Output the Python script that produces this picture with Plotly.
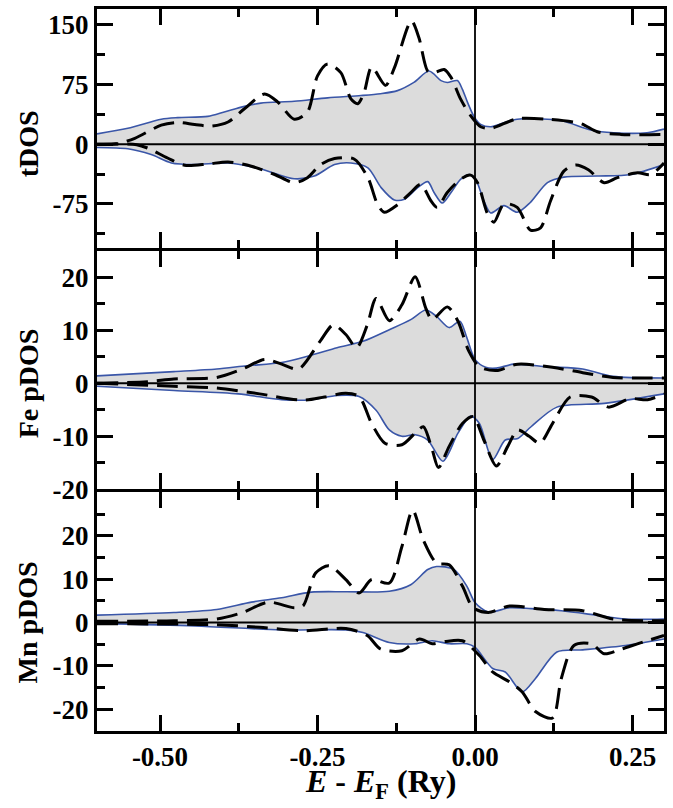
import plotly.graph_objects as go
from plotly.subplots import make_subplots

# ---------------- data ----------------
# Panel 1: tDOS
tdos_up_solid_x = [-0.6, -0.551, -0.498, -0.472, -0.424, -0.398, -0.366, -0.340, -0.287, -0.234, -0.181, -0.150, -0.123, -0.097, -0.073, -0.054, -0.044, -0.028, -0.020, -0.012, -0.001, 0.009, 0.025, 0.046, 0.067, 0.115, 0.141, 0.184, 0.220, 0.273, 0.3]
tdos_up_solid_y = [13, 20, 31.5, 33.5, 35, 40.5, 47.6, 51.7, 54, 58.3, 61.2, 63.5, 67.4, 77.7, 92, 80, 77.7, 80, 69, 53, 34, 25, 22, 27, 31.5, 31.5, 29, 18, 14.5, 14.5, 19]
tdos_dn_solid_x = [-0.6, -0.551, -0.514, -0.482, -0.445, -0.392, -0.340, -0.287, -0.255, -0.223, -0.197, -0.170, -0.149, -0.128, -0.112, -0.091, -0.075, -0.065, -0.052, -0.038, -0.023, -0.009, 0.001, 0.014, 0.025, 0.046, 0.067, 0.088, 0.115, 0.141, 0.194, 0.247, 0.3]
tdos_dn_solid_y = [-4, -5.7, -13, -23.5, -25.5, -23.5, -31, -43.4, -40, -25.5, -23.5, -29.7, -54.5, -70, -69, -54.5, -47, -60.7, -73.9, -60.7, -44.2, -38, -44, -71, -86.3, -77.2, -85.5, -73, -48.3, -41.3, -40, -38, -25.5]
tdos_up_dash_x = [-0.6, -0.57, -0.540, -0.498, -0.472, -0.445, -0.419, -0.392, -0.366, -0.334, -0.313, -0.287, -0.266, -0.250, -0.234, -0.213, -0.197, -0.186, -0.176, -0.164, -0.142, -0.128, -0.101, -0.089, -0.075, -0.065, -0.049, -0.038, -0.023, -0.007, 0.009, 0.025, 0.067, 0.115, 0.168, 0.194, 0.231, 0.3]
tdos_up_dash_y = [0, 0.5, 7.5, 24, 27.3, 24.8, 22.8, 28, 44.6, 63.2, 53, 31.5, 40.5, 86, 101, 90, 57, 51, 65, 97, 74, 96, 155, 134, 92, 90, 94, 84, 57, 36, 22, 20, 32, 31.5, 26, 15.7, 12.4, 12.4]
tdos_dn_dash_x = [-0.6, -0.537, -0.519, -0.488, -0.461, -0.424, -0.392, -0.355, -0.318, -0.287, -0.266, -0.245, -0.223, -0.192, -0.170, -0.155, -0.144, -0.123, -0.102, -0.086, -0.070, -0.060, -0.044, -0.023, -0.007, 0.004, 0.020, 0.030, 0.046, 0.067, 0.088, 0.104, 0.120, 0.141, 0.160, 0.180, 0.205, 0.226, 0.258, 0.279, 0.3]
tdos_dn_dash_y = [0, -0.5, -5, -17.3, -26.4, -24.8, -22.3, -27.6, -38, -48.3, -42, -25.5, -18, -18.5, -42, -75, -85.5, -76, -60.7, -50.3, -71, -79.3, -60.7, -44, -38.8, -48.3, -87.5, -97.9, -75, -79.3, -108, -105, -71, -33.8, -26, -32, -48.3, -42, -35.9, -38, -23.5]

# Panel 2: Fe pDOS
fe_up_solid_x = [-0.6, -0.478, -0.41, -0.362, -0.307, -0.26, -0.219, -0.178, -0.136, -0.102, -0.078, -0.061, -0.041, -0.024, -0.013, 0, 0.017, 0.034, 0.062, 0.116, 0.171, 0.219, 0.3]
fe_up_solid_y = [1.4, 2.2, 2.7, 3.3, 3.9, 5.3, 6.7, 7.9, 10.1, 12, 13.8, 12.6, 10.5, 11.7, 8.6, 4.5, 3, 2.85, 3.6, 3.1, 2.7, 1.3, 1.0]
fe_dn_solid_x = [-0.6, -0.478, -0.376, -0.307, -0.26, -0.219, -0.184, -0.157, -0.136, -0.116, -0.095, -0.075, -0.051, -0.027, -0.007, 0.007, 0.028, 0.048, 0.068, 0.089, 0.13, 0.205, 0.3]
fe_dn_solid_y = [-0.56, -1.36, -2, -3.1, -3.1, -2.3, -2.5, -5.1, -8.8, -10, -9.7, -10.7, -14.7, -9.4, -6.2, -7.6, -14.4, -10.7, -10.4, -8.2, -4.5, -3.8, -2]
fe_up_dash_x = [-0.6, -0.52, -0.478, -0.41, -0.369, -0.334, -0.307, -0.28, -0.246, -0.225, -0.205, -0.188, -0.171, -0.157, -0.136, -0.116, -0.095, -0.078, -0.068, -0.044, -0.027, -0.01, 0.007, 0.034, 0.068, 0.123, 0.171, 0.219, 0.3]
fe_up_dash_y = [0, 0.3, 0.8, 1.1, 2.7, 4.5, 3.6, 2.7, 7.9, 11, 9.2, 6.7, 11, 16, 11.8, 14.8, 20.1, 14.1, 12, 14.4, 11.7, 6.1, 3.1, 2.4, 3.6, 3, 2, 1.1, 1]
fe_dn_dash_x = [-0.6, -0.478, -0.41, -0.342, -0.273, -0.239, -0.205, -0.184, -0.164, -0.143, -0.116, -0.095, -0.082, -0.068, -0.058, -0.041, -0.02, -0.003, 0.014, 0.034, 0.052, 0.068, 0.086, 0.103, 0.123, 0.151, 0.185, 0.212, 0.246, 0.274, 0.3]
fe_dn_dash_y = [0, -0.56, -0.9, -2, -3.2, -2.6, -1.9, -2.5, -7.6, -11.3, -11.6, -9.4, -8.2, -12.5, -15.9, -11.9, -7.6, -6.3, -10.7, -15.6, -11.9, -8.8, -10, -11.3, -7.6, -2.6, -2.6, -4.5, -2.9, -3.1, -2]

# Panel 3: Mn pDOS
mn_up_solid_x = [-0.6, -0.478, -0.41, -0.355, -0.307, -0.26, -0.205, -0.136, -0.102, -0.075, -0.061, -0.034, -0.013, 0, 0.021, 0.055, 0.089, 0.137, 0.192, 0.239, 0.3]
mn_up_solid_y = [1.7, 2.3, 3, 4.7, 5.7, 7, 7.1, 7.2, 8.7, 12.2, 12.9, 12.3, 8.4, 4.6, 2.4, 3.4, 3.2, 2.7, 1.7, 0.8, 0.8]
mn_dn_solid_x = [-0.6, -0.444, -0.307, -0.205, -0.178, -0.136, -0.095, -0.068, -0.041, -0.013, 0, 0.028, 0.048, 0.075, 0.096, 0.13, 0.171, 0.239, 0.3]
mn_dn_solid_y = [-0.2, -0.8, -1.7, -1.7, -2.3, -4.6, -4.9, -4.2, -4.9, -4.9, -5.7, -10.6, -11.4, -16, -12.9, -6.8, -6.3, -5.3, -3.8]
mn_up_dash_x = [-0.6, -0.478, -0.41, -0.369, -0.328, -0.287, -0.273, -0.253, -0.232, -0.205, -0.184, -0.164, -0.136, -0.116, -0.099, -0.082, -0.061, -0.041, -0.02, -0.003, 0.021, 0.055, 0.11, 0.171, 0.219, 0.3]
mn_up_dash_y = [0.3, 0.4, 0.8, 2.3, 4.7, 3.4, 3.8, 11.4, 13.1, 9.9, 6.8, 9.9, 9.1, 17.5, 25.9, 19, 13.7, 13.3, 8.4, 3.4, 2.3, 3.8, 3, 2.7, 0.8, 0.4]
mn_dn_dash_x = [-0.6, -0.41, -0.342, -0.273, -0.205, -0.171, -0.15, -0.116, -0.088, -0.068, -0.048, -0.02, 0.007, 0.028, 0.055, 0.075, 0.096, 0.123, 0.137, 0.157, 0.185, 0.205, 0.233, 0.26, 0.3]
mn_dn_dash_y = [-0.3, -0.5, -1.1, -1.9, -1.4, -3, -6.1, -6.5, -3.8, -4.9, -4.4, -4.2, -7.6, -11.4, -13.7, -16, -20.5, -22, -12.9, -5.3, -4.9, -7.2, -6.1, -4.8, -3]

panel_titles = ["tDOS", "Fe pDOS", "Mn pDOS"]
y_ranges = [[-130, 170], [-20, 25], [-25, 30]]
y_tickvals = [[-75, 0, 75, 150], [-20, -10, 0, 10, 20], [-20, -10, 0, 10, 20]]
y_ticktext = [["-75", "0", "75", "150"], ["-20", "-10", "0", "10", "20"], ["-20", "-10", "0", "10", "20"]]
y_minor = [37.5, 5, 5]
x_tickvals = [-0.5, -0.25, 0.0, 0.25]
x_ticktext = ["-0.50", "-0.25", "0.00", "0.25"]

# ---------------- figure ----------------
BLUE = "#3a56a8"
FILL = "#dcdcdc"
FONT = "Liberation Serif, Times New Roman, serif"
LW = 3

W, H = 673, 808
ML, MR, MT, MB = 97, 9, 6, 77
plot_w = W - ML - MR
plot_h = H - MT - MB

fig = make_subplots(rows=3, cols=1, shared_xaxes=True, vertical_spacing=LW / plot_h)

panels = [
    (tdos_up_solid_x, tdos_up_solid_y, tdos_dn_solid_x, tdos_dn_solid_y,
     tdos_up_dash_x, tdos_up_dash_y, tdos_dn_dash_x, tdos_dn_dash_y),
    (fe_up_solid_x, fe_up_solid_y, fe_dn_solid_x, fe_dn_solid_y,
     fe_up_dash_x, fe_up_dash_y, fe_dn_dash_x, fe_dn_dash_y),
    (mn_up_solid_x, mn_up_solid_y, mn_dn_solid_x, mn_dn_solid_y,
     mn_up_dash_x, mn_up_dash_y, mn_dn_dash_x, mn_dn_dash_y),
]

for i, p in enumerate(panels):
    row = i + 1
    usx, usy, dsx, dsy, udx, udy, ddx, ddy = p
    for xs, ys in [(usx, usy), (dsx, dsy)]:
        fig.add_trace(go.Scatter(x=xs, y=ys, mode="lines", fill="tozeroy",
                                 fillcolor=FILL,
                                 line=dict(color=BLUE, width=1.6, shape="spline", smoothing=0.8),
                                 showlegend=False, hoverinfo="skip"), row=row, col=1)
    for xs, ys in [(udx, udy), (ddx, ddy)]:
        fig.add_trace(go.Scatter(x=xs, y=ys, mode="lines",
                                 line=dict(color="black", width=3, dash="21px,9px",
                                           shape="spline", smoothing=0.8),
                                 showlegend=False, hoverinfo="skip"), row=row, col=1)

axis_font = dict(family=FONT, size=27, color="black", weight="bold")
title_font = dict(family=FONT, size=28, color="black", weight="bold")

for i in range(3):
    row = i + 1
    fig.update_yaxes(row=row, col=1, range=y_ranges[i], tickmode="array",
                     tickvals=y_tickvals[i], ticktext=y_ticktext[i],
                     ticks="inside", ticklen=16, tickwidth=3, tickcolor="black",
                     minor=dict(ticks="inside", ticklen=8, tickwidth=2.5, tickcolor="black",
                                tick0=0, dtick=y_minor[i], showgrid=False),
                     showline=True, linewidth=LW, linecolor="black", mirror="allticks",
                     showgrid=False, zeroline=False,
                     tickfont=axis_font)
    fig.update_xaxes(row=row, col=1, range=[-0.6, 0.3], tickmode="array",
                     tickvals=x_tickvals, ticktext=x_ticktext,
                     ticks="inside", ticklen=16, tickwidth=3, tickcolor="black",
                     minor=dict(ticks="inside", ticklen=8, tickwidth=2.5, tickcolor="black",
                                tick0=0, dtick=0.125, showgrid=False),
                     showline=True, linewidth=LW, linecolor="black", mirror="allticks",
                     showgrid=False, zeroline=False, tickfont=axis_font)

# y titles centred on the zero level of each panel
for i in range(3):
    yref = "y" if i == 0 else f"y{i+1}"
    fig.add_annotation(text=panel_titles[i], xref="paper", yref=yref,
                       x=(28 - ML) / plot_w, y=0, xanchor="center", yanchor="middle",
                       textangle=-90, showarrow=False, font=title_font)

# x title
NB = "\u00a0"
fig.add_annotation(text=f"<i>E</i>{NB}-{NB}<i>E</i><sub>F</sub>{NB}(Ry)",
                   xref="paper", yref="paper",
                   x=(380 - ML) / plot_w, y=-(806 - (H - MB)) / plot_h,
                   xanchor="center", yanchor="bottom",
                   showarrow=False,
                   font=dict(family=FONT, size=32, color="black", weight="bold"))

# zero lines and Fermi level line
for i in range(3):
    yref = "y" if i == 0 else f"y{i+1}"
    fig.add_shape(type="line", xref="paper", yref=yref, x0=0, x1=1, y0=0, y1=0,
                  line=dict(color="black", width=1.8), layer="above")
fig.add_shape(type="line", xref="x3", yref="paper", x0=0, x1=0, y0=0, y1=1,
              line=dict(color="black", width=1.8), layer="above")

fig.update_layout(width=W, height=H, margin=dict(l=ML, r=MR, t=MT, b=MB),
                  plot_bgcolor="white", paper_bgcolor="white",
                  font=dict(family=FONT, color="black"))

fig.write_html("out.html")
